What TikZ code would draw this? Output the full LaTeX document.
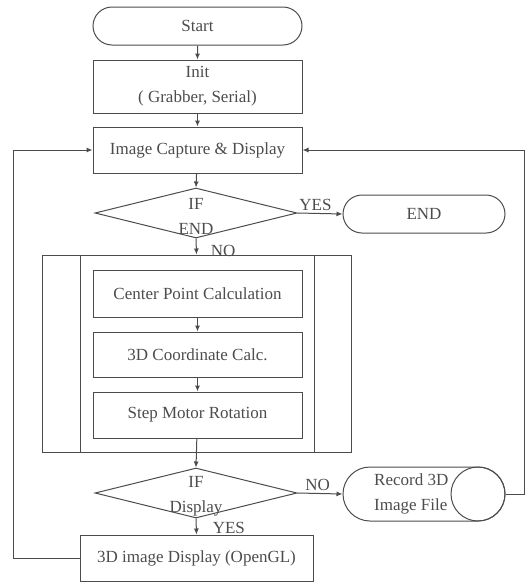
\documentclass[tikz,border=0pt]{standalone}
\usepackage{fontspec}
\setmainfont{Liberation Serif}
\usetikzlibrary{shapes.geometric,shapes.misc,arrows.meta}
\definecolor{ink}{gray}{0.3}
\tikzset{
  every node/.style={font=\fontsize{17}{25}\selectfont, text=ink},
  proc/.style={draw=ink, line width=1pt, rectangle, inner sep=0pt, align=center},
  term/.style={draw=ink, line width=1pt, rounded rectangle, inner sep=0pt, align=center},
  decide/.style={draw=ink, line width=1pt, diamond, inner sep=0pt, minimum width=202pt, minimum height=50pt},
  txt/.style={inner sep=0pt, align=center},
  flow/.style={draw=ink, line width=1pt, -{Latex[length=6pt,width=5pt]}},
  wire/.style={draw=ink, line width=1pt},
}
\begin{document}
\begin{tikzpicture}[x=1pt,y=-1pt]
\useasboundingbox (0,0) rectangle (526,582);

% main column
\node[term, minimum width=209pt, minimum height=38pt] (start) at (197.5,26) {Start};
\node[proc, minimum width=209pt, minimum height=53pt] (init) at (197.5,86.5) {Init\\( Grabber, Serial)};
\node[proc, minimum width=209pt, minimum height=46pt] (cap) at (197.5,150) {Image Capture \& Display};

% first decision
\node[decide] (d1) at (196,213) {};
\node[txt] (d1t) at (196,216) {IF\\END};
\node[term, minimum width=162pt, minimum height=38pt] (endn) at (424,214) {END};

% processing block with side bars
\node[draw=ink, line width=1pt, rectangle, minimum width=309pt, minimum height=197pt, inner sep=0pt] (loop) at (196.5,353.5) {};
\coordinate (lb1) at (80,255);
\coordinate (lb2) at (80,452);
\coordinate (rb1) at (314,255);
\coordinate (rb2) at (314,452);
\draw[wire] (lb1) -- (lb2);
\draw[wire] (rb1) -- (rb2);
\node[proc, minimum width=209pt, minimum height=47pt] (cpc) at (197.5,293.5) {Center Point Calculation};
\node[proc, minimum width=209pt, minimum height=45pt] (coord) at (197.5,354.5) {3D Coordinate Calc.};
\node[proc, minimum width=209pt, minimum height=46pt] (stepm) at (197.5,415) {Step Motor Rotation};

% second decision
\node[decide] (d2) at (196,493) {};
\node[txt] (d2t) at (196,496) {IF\\Display};

% record storage: stadium with a circle at its right end
\node[term, minimum width=162pt, minimum height=54pt] (rec) at (424,494) {};
\node[draw=ink, line width=1pt, circle, minimum size=54pt, inner sep=0pt] (disk) at (478,494) {};
\node[txt, align=left, anchor=west] (rect) at (374,494) {Record 3D\\Image File};

% display
\node[proc, minimum width=233pt, minimum height=46pt] (disp) at (196.5,558) {3D image Display (OpenGL)};

% connectors
\draw[flow] (start) -- (init);
\draw[flow] (init) -- (cap);
\draw[flow] (cap) -- (d1.north);
\draw[flow] (d1.east) -- node[txt, above=2pt, pos=0.4] (yes1) {YES} (endn.west);
\draw[flow] (d1.south) -- node[txt, right=14pt, pos=0.75] (no1) {NO} (loop.north);
\draw[flow] (cpc) -- (coord);
\draw[flow] (coord) -- (stepm);
\draw[flow] (stepm) -- (d2.north);
\draw[flow] (d2.east) -- node[txt, above=2pt, pos=0.45] (no2) {NO} (rec.west);
\draw[flow] (d2.south) -- node[txt, right=16pt, pos=0.6] (yes2) {YES} (disp.north);

% loop-back lines
\coordinate (rr1) at (524.5,494);
\coordinate (rr2) at (524.5,150);
\draw[flow] (disk.east) -- (rr1) -- (rr2) -- (cap.east);
\coordinate (ll1) at (13,558);
\coordinate (ll2) at (13,150);
\draw[flow] (disp.west) -- (ll1) -- (ll2) -- (cap.west);
\end{tikzpicture}
\end{document}
